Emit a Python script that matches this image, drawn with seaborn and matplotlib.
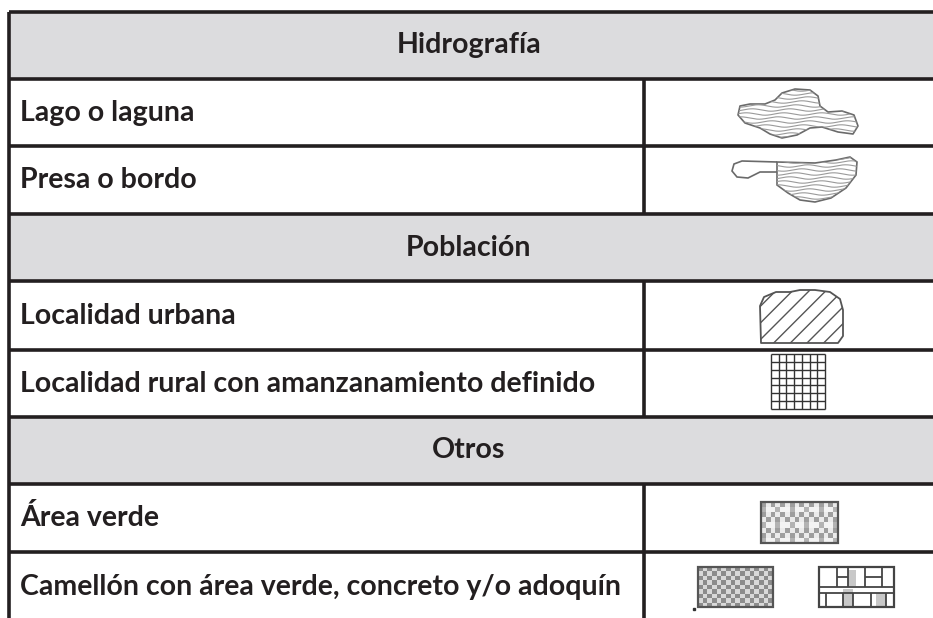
import matplotlib.pyplot as plt
import matplotlib.patches as mpatches
import numpy as np
import seaborn as sns

# table content
row_kinds = ['header', 'item', 'item', 'header', 'item', 'item', 'header', 'item', 'item']
row_labels = ['Hidrografía', 'Lago o laguna', 'Presa o bordo',
              'Población', 'Localidad urbana', 'Localidad rural con amanzanamiento definido',
              'Otros', 'Área verde', 'Camellón con área verde, concreto y/o adoquín']
row_symbols = [None, 'lago', 'presa', None, 'urbana', 'rural', None, 'verde', 'camellon']

# layout (pixels)
W, H = 933, 618
row_edges = [12, 79, 146, 214, 281, 350, 417, 484, 552, 621]
x_left, x_div, x_right = 9, 644, 960
line_col = '#231f20'
head_col = '#dcdcde'

sns.set_theme(style='white')
plt.rcParams['font.family'] = ['Lato', 'DejaVu Sans']

fig = plt.figure(figsize=(W / 100, H / 100), dpi=100)
ax = fig.add_axes([0, 0, 1, 1])
ax.set_xlim(0, W)
ax.set_ylim(H, 0)
ax.axis('off')


def wavy_fill(poly, x0, x1, y0, y1, step=4.0):
    ax.add_patch(poly)
    for k, yy in enumerate(np.arange(y0, y1, step)):
        xs = np.linspace(x0, x1, 200)
        ys = yy + 1.2 * np.sin(xs / 6.0 + k)
        ln, = ax.plot(xs, ys, color='#9a9a9a', lw=0.8)
        ln.set_clip_path(poly)


def draw_symbol(kind, cy):
    if kind == 'lago':
        pts = [(740, 106), (750, 104), (765, 104), (775, 100), (782, 93), (795, 89), (810, 90),
               (818, 96), (820, 106), (828, 112), (842, 111), (854, 115), (858, 126), (853, 134),
               (838, 132), (822, 127), (810, 128), (797, 135), (782, 138), (770, 134), (760, 128),
               (745, 123), (738, 115)]
        poly = mpatches.Polygon(pts, closed=True, fc='white', ec='#6a6a6a', lw=1.2, joinstyle='round')
        wavy_fill(poly, 735, 860, 90, 140)
    elif kind == 'presa':
        handle = [(777, 162), (742, 161), (734, 164), (732, 171), (737, 177), (748, 178),
                  (760, 172), (777, 172)]
        ax.add_patch(mpatches.Polygon(handle, closed=False, fill=False, ec='#6a6a6a', lw=1.2))
        body = [(777, 162), (815, 163), (836, 160), (850, 157), (857, 162), (856, 175),
                (846, 188), (831, 198), (815, 202), (800, 200), (788, 193), (777, 185)]
        poly = mpatches.Polygon(body, closed=True, fc='white', ec='#6a6a6a', lw=1.2)
        wavy_fill(poly, 770, 860, 158, 205)
    elif kind == 'urbana':
        verts = [(761, 343), (760, 306), (764, 297), (776, 292), (790, 292), (800, 290),
                 (815, 290), (830, 292), (840, 299), (843, 310), (843, 336), (838, 343)]
        poly = mpatches.Polygon(verts, closed=True, fc='white', ec='#555555', lw=1.3,
                                hatch='//', joinstyle='round')
        ax.add_patch(poly)
    elif kind == 'rural':
        xs = np.linspace(771, 825, 8)
        ys = np.linspace(354, 409, 8)
        ax.vlines(xs, ys[0], ys[-1], color='#333333', lw=1.0)
        ax.hlines(ys, xs[0], xs[-1], color='#333333', lw=1.0)
    elif kind == 'verde':
        ii, jj = np.indices((8, 16))
        pat = np.where((ii + jj) % 2 == 0, 0.62, 0.92)
        pat[(ii % 3 == 1)] = np.where((jj[(ii % 3 == 1)] % 3 == 0), 0.7, 0.95)
        ax.imshow(pat, cmap='gray', vmin=0, vmax=1, extent=(761, 838, 543, 502),
                  interpolation='nearest', aspect='auto', zorder=2)
        ax.add_patch(mpatches.Rectangle((761, 502), 77, 41, fill=False, ec='#555555', lw=1.6, zorder=3))
    elif kind == 'camellon':
        ii, jj = np.indices((9, 16))
        pat = np.where((ii + jj) % 2 == 0, 0.55, 0.85)
        ax.imshow(pat, cmap='gray', vmin=0, vmax=1, extent=(698, 773, 607, 567),
                  interpolation='nearest', aspect='auto', zorder=2)
        ax.add_patch(mpatches.Rectangle((698, 567), 75, 40, fill=False, ec='#555555', lw=1.6, zorder=3))
        ax.plot([694], [609], 's', ms=1.5, color='#333333')
        # bricks
        ax.add_patch(mpatches.Rectangle((843, 589), 10, 18, fc='#c8c8c8', ec='none', zorder=2))
        ax.add_patch(mpatches.Rectangle((848, 570), 8, 16, fc='#c8c8c8', ec='none', zorder=2))
        ax.add_patch(mpatches.Rectangle((876, 593), 10, 14, fc='#c8c8c8', ec='none', zorder=2))
        ax.add_patch(mpatches.Rectangle((819, 567), 75, 40, fill=False, ec='#444444', lw=1.6, zorder=3))
        ax.hlines([587, 593], 819, 894, color='#444444', lw=1.3, zorder=3)
        ax.hlines([577, 577], [837, 865], [848, 882], color='#444444', lw=1.3, zorder=3)
        ax.vlines([837, 848, 865, 882], 567, 587, color='#444444', lw=1.3, zorder=3)
        ax.vlines([826, 843, 853, 871, 886], 593, 607, color='#444444', lw=1.3, zorder=3)


for kind, label, sym, y0, y1 in zip(row_kinds, row_labels, row_symbols,
                                     row_edges[:-1], row_edges[1:]):
    cy = (y0 + y1) / 2
    if kind == 'header':
        ax.add_patch(mpatches.Rectangle((x_left, y0), x_right - x_left, y1 - y0,
                                        fc=head_col, ec='none', zorder=0))
        ax.text(469, cy, label, ha='center', va='center', fontsize=20.5,
                fontweight='bold', color='#231f20')
    else:
        ax.text(20, cy, label, ha='left', va='center', fontsize=20.5,
                fontweight='bold', color='#231f20')
        ax.vlines(x_div, y0, y1, color=line_col, lw=2.6, zorder=4)
        draw_symbol(sym, cy)

ax.hlines(row_edges[:-1], x_left, x_right, color=line_col, lw=2.6, zorder=4)
ax.vlines(x_left, row_edges[0], H, color=line_col, lw=2.6, zorder=4)

fig.savefig('out.png', dpi=100)
